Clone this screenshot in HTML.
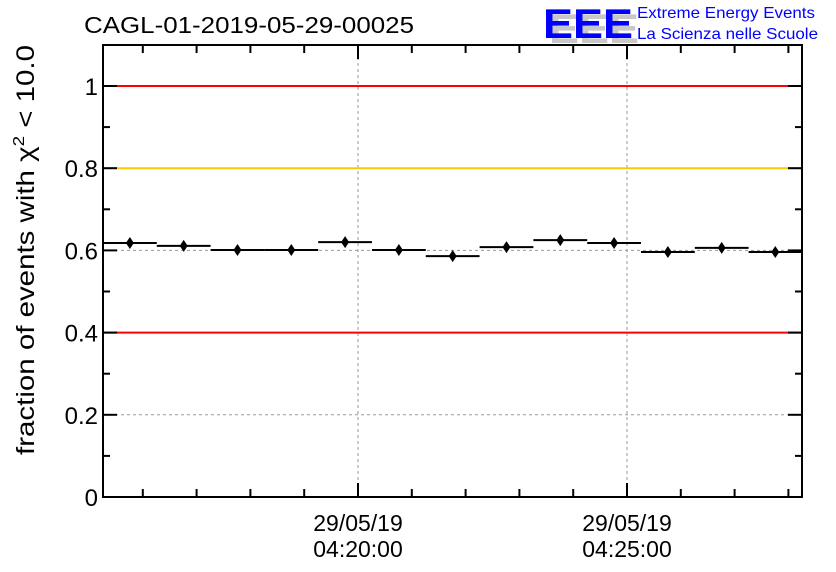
<!DOCTYPE html>
<html><head><meta charset="utf-8"><style>
body{margin:0;background:#fff;}
svg{display:block;font-family:"Liberation Sans",sans-serif;}
</style></head><body>
<svg id="chart" width="836" height="572" viewBox="0 0 836 572">
<text x="84" y="33" font-size="23" textLength="330" lengthAdjust="spacingAndGlyphs">CAGL-01-2019-05-29-00025</text>
<g>
<text x="549" y="43" font-size="42" font-weight="bold" fill="#c8c8c8" textLength="90" lengthAdjust="spacingAndGlyphs">EEE</text>
<text x="543" y="38" font-size="42" font-weight="bold" fill="#0000ff" textLength="90" lengthAdjust="spacingAndGlyphs">EEE</text>
<text x="637" y="18" font-size="16" fill="#0000ff" textLength="178" lengthAdjust="spacingAndGlyphs">Extreme Energy Events</text>
<text x="637" y="39" font-size="16" fill="#0000ff" textLength="181" lengthAdjust="spacingAndGlyphs">La Scienza nelle Scuole</text>
</g>
<g id="grid"></g>
<g id="refs"></g>
<g id="data"></g>
<rect x="103" y="45" width="699" height="452" fill="none" stroke="#000" stroke-width="2"/>
<g id="axes"></g>
<text transform="translate(34,250) rotate(-90)" text-anchor="middle" font-size="25" textLength="410" lengthAdjust="spacingAndGlyphs">fraction of events with χ<tspan dy="-10" font-size="16">2</tspan><tspan dy="10"> &lt; 10.0</tspan></text>
</svg>
<script>
const binValues=[0.618,0.611,0.601,0.601,0.620,0.601,0.586,0.608,0.625,0.618,0.596,0.606,0.596];
const binStartMin=-4.74; // minutes relative to 04:20:00
const refLines=[1.0,0.8,0.4];
const refColors=["#ff0000","#ffc800","#ff0000"];
const yTicks=[0,0.2,0.4,0.6,0.8,1];
const yTickLabels=["0","0.2","0.4","0.6","0.8","1"];
const xMajor=[0,5];
const xMajorLabels=[["29/05/19","04:20:00"],["29/05/19","04:25:00"]];
const X0=103,X1=802,Y0=497,Y1=45;
const pxPerMin=53.8;
function xs(m){return 358+m*pxPerMin;}
function ys(v){return Y0-v*411;}
const NS="http://www.w3.org/2000/svg";
function mk(t,a,p){const e=document.createElementNS(NS,t);for(const k in a)e.setAttribute(k,a[k]);p.appendChild(e);return e;}
const grid=document.getElementById('grid'),refs=document.getElementById('refs'),data=document.getElementById('data'),axes=document.getElementById('axes');
yTicks.forEach((v,i)=>{
 if(v>0&&v<1){const g=mk('line',{x1:X0,x2:X1,y1:ys(v),y2:ys(v),stroke:'#999','stroke-dasharray':'3,3'},grid);
 
 }
 const t=mk('text',{x:X0-5,y:ys(v)+9,'text-anchor':'end','font-size':'24'},axes);t.textContent=yTickLabels[i];
 
 
 mk('line',{x1:X0,x2:X0+14,y1:ys(v),y2:ys(v),stroke:'#000','stroke-width':2},axes);
 mk('line',{x1:X1-14,x2:X1,y1:ys(v),y2:ys(v),stroke:'#000','stroke-width':2},axes);
 if(v<1){const m=ys(v+0.1);
 mk('line',{x1:X0,x2:X0+7,y1:m,y2:m,stroke:'#000','stroke-width':2},axes);
 mk('line',{x1:X1-7,x2:X1,y1:m,y2:m,stroke:'#000','stroke-width':2},axes);}
});
xMajor.forEach((m,i)=>{
 const g=mk('line',{x1:xs(m),x2:xs(m),y1:Y1,y2:Y0,stroke:'#999','stroke-dasharray':'3,3'},grid);
 
 
 const t=mk('text',{x:xs(m),y:531,'text-anchor':'middle','font-size':'23'},axes);
 
 
 xMajorLabels[i].forEach((s,j)=>{const ts=mk('tspan',{x:xs(m),dy:j?26:0},t);ts.textContent=s;});
});
for(let m=-4;m<=8;m++){const x=xs(m);const L=(m%5===0)?14:8;
 mk('line',{x1:x,x2:x,y1:Y0,y2:Y0-L,stroke:'#000','stroke-width':2},axes);
 mk('line',{x1:x,x2:x,y1:Y1,y2:Y1+L,stroke:'#000','stroke-width':2},axes);}
refLines.forEach((v,i)=>{const l=mk('line',{x1:X0,x2:X1,y1:ys(v),y2:ys(v),stroke:refColors[i],'stroke-width':2},refs);
 
 });
binValues.forEach((v,i)=>{
 const a=xs(binStartMin+i),b=Math.min(xs(binStartMin+i+1),X1),c=(a+b)/2,y=ys(v);
 const l=mk('line',{x1:a,x2:b,y1:y,y2:y,stroke:'#000','stroke-width':2},data);
 
 
 const p=mk('path',{d:`M${c},${y-6}L${c+4},${y}L${c},${y+6}L${c-4},${y}Z`,fill:'#000'},data);
 
 
});
</script>
</body></html>
